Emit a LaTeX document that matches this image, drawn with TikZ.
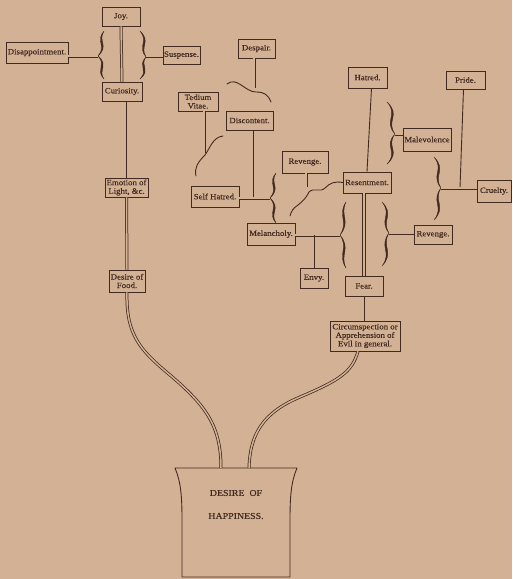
\documentclass[tikz,border=0pt]{standalone}
\usepackage{fontspec}
\setmainfont{Liberation Serif}[FakeStretch=1.1,FakeBold=0.4]
\usetikzlibrary{calc}
\definecolor{ink}{RGB}{66,42,33}
\definecolor{bg}{RGB}{211,177,149}
% old-style printed brace: base x, top y, tip x, tip y, bottom y
\newcommand\obr[5]{%
  \pgfmathsetmacro\qa{0.42*(#4-#2)}%
  \pgfmathsetmacro\qb{0.42*(#5-#4)}%
  \pgfmathsetmacro\ya{#2+\qa}\pgfmathsetmacro\yb{#4-\qa}%
  \pgfmathsetmacro\yc{#4+\qb}\pgfmathsetmacro\yd{#5-\qb}%
  \pgfmathsetmacro\cxo{#1+1.5*(#3-#1)}\pgfmathsetmacro\cxi{#1-0.5*(#3-#1)}%
  \pgfmathsetmacro\cxos{\cxo+2.4}\pgfmathsetmacro\cxis{\cxi+2.4}%
  \filldraw[bracefill] (#1,#2) .. controls (\cxo,\ya) and (\cxi,\yb) .. (#3,#4)
     .. controls (\cxi,\yc) and (\cxo,\yd) .. (#1,#5)
     .. controls (\cxos,\yd) and (\cxis,\yc) .. (#3,#4)
     .. controls (\cxis,\yb) and (\cxos,\ya) .. (#1,#2) -- cycle;}
\begin{document}
\begin{tikzpicture}[x=1pt,y=-1pt,
  bx/.style={draw=ink, line width=0.7pt, inner sep=0pt, align=center,
    text=ink, font=\fontsize{8}{8.5}\selectfont},
  sgl/.style={draw=ink, line width=0.9pt},
  dbl/.style={draw=ink, line width=0.75pt, double=bg, double distance=1.5pt},
  wave/.style={draw=ink, line width=0.9pt, line cap=round},
  bracefill/.style={fill=ink, draw=ink, line width=0.4pt, line join=round},
  jar/.style={draw=ink, line width=0.9pt, line join=round}]
\fill[bg] (0,0) rectangle (512,579);
\useasboundingbox (0,0) rectangle (512,579);

% boxes
\node[bx, minimum width=38pt, minimum height=19pt] (joy) at (121,16.5) {Joy.};
\node[bx, minimum width=62pt, minimum height=21pt] (disap) at (37,52.5) {Disappointment.};
\node[bx, minimum width=37pt, minimum height=18pt] (susp) at (181.5,55) {Suspense.};
\node[bx, minimum width=40pt, minimum height=19pt] (curio) at (122,91.5) {Curiosity.};
\node[bx, minimum width=43pt, minimum height=19pt] (emotion) at (126.5,187.5) {Emotion of\\Light, \&c.};
\node[bx, minimum width=36pt, minimum height=22pt] (food) at (127,281) {Desire of\\Food.};
\node[bx, minimum width=37pt, minimum height=19pt] (despair) at (256.5,48.5) {Despair.};
\node[bx, minimum width=40pt, minimum height=19pt] (tedium) at (198,101.5) {Tedium\\Vitae.};
\node[bx, minimum width=47pt, minimum height=19pt] (discontent) at (249.5,120.5) {Discontent.};
\node[bx, minimum width=48pt, minimum height=21pt] (selfhatred) at (215,196.5) {Self Hatred.};
\node[bx, minimum width=46pt, minimum height=22pt] (revengeA) at (305,162) {Revenge.};
\node[bx, minimum width=39pt, minimum height=21pt] (hatred) at (367.5,77.5) {Hatred.};
\node[bx, minimum width=48pt, minimum height=21pt] (resentment) at (367,182.5) {Resentment.};
\node[bx, minimum width=48pt, minimum height=23pt] (malevolence) at (427,139.5) {Malevolence};
\node[bx, minimum width=39pt, minimum height=18pt] (pride) at (465.5,80) {Pride.};
\node[bx, minimum width=34pt, minimum height=22pt] (cruelty) at (494,191) {Cruelty.};
\node[bx, minimum width=38pt, minimum height=19pt] (revengeB) at (433,234.5) {Revenge.};
\node[bx, minimum width=48pt, minimum height=22pt] (melancholy) at (271,234) {Melancholy.};
\node[bx, minimum width=28pt, minimum height=20pt] (envy) at (314,278) {Envy.};
\node[bx, minimum width=38pt, minimum height=20pt] (fear) at (364,286) {Fear.};
\node[bx, minimum width=70pt, minimum height=30pt] (circ) at (365,336) {Circumspection or\\Apprehension of\\Evil in general.};
\node[align=center, inner sep=0pt, text=ink, font=\fontsize{9}{23}\selectfont] (happy) at (236,504.5) {DESIRE\ \ OF\\HAPPINESS.};

% jar of happiness
\draw[jar] (175,468) -- (297,468) .. controls (291,482) and (290,497) .. (290,520)
  -- (290,577) -- (182,577) -- (182,520) .. controls (182,497) and (181,482) .. (175,468) -- cycle;
\coordinate (hl) at (221,468);
\coordinate (hr) at (249,468);

% brace tips and junctions
\coordinate (tA) at (98,56);
\coordinate (tB) at (146,57);
\coordinate (tC) at (270,198);
\coordinate (tD) at (395,134);
\coordinate (tE) at (340,235);
\coordinate (tF) at (389,233);
\coordinate (tG) at (441,188);
\coordinate (tT1) at (253,198);
\coordinate (tT2) at (460,188);
\coordinate (wA) at (254,88);
\coordinate (wB) at (204,153);
\coordinate (wC) at (306,187);

% braces
\obr{104}{31}{98}{56}{79}
\obr{140}{31}{146}{57}{79}
\obr{276}{173}{270}{198}{223}
\obr{387}{102}{395}{134}{164}
\obr{346}{202}{340}{235}{268}
\obr{382}{202}{389}{233}{266}
\obr{434}{157}{441}{188}{220}

% connectors, left column
\draw[dbl] (joy.south) -- (curio.north);
\draw[dbl] (tA -| disap.east) -- (tA);
\draw[sgl] (tB) -- (tB -| susp.west);
\draw[sgl] (emotion.north |- curio.south) -- (emotion.north);
\draw[dbl] (emotion.south) -- (food.north);
\draw[dbl] (food.south) .. controls (126,335) and (140,350) .. (170,375)
  .. controls (205,405) and (221,425) .. (hl);
\draw[dbl] ([xshift=-7pt]circ.south) .. controls (352,372) and (340,380) .. (300,397)
  .. controls (262,413) and (250,435) .. (hr);

% Despair / Tedium / Discontent / Self Hatred
\draw[dbl] (despair.south -| wA) -- (wA);
\draw[wave] (227,84) .. controls (237,76) and (245,92) .. (256,92) .. controls (265,92) and (268,95) .. (271,102);
\draw[dbl] (tedium.south -| wB) -- (wB);
\draw[wave] (223,136) .. controls (213,137) and (210,148) .. (205,155) .. controls (198,162) and (194,168) .. (196,176);
\draw[sgl] (discontent.south -| tT1) -- (tT1);
\draw[dbl] (tC -| selfhatred.east) -- (tC);

% Revenge / Resentment
\draw[dbl] (revengeA.south -| wC) -- (wC);
\draw[wave] (resentment.west) .. controls (335,181) and (330,183) .. (325,188)
  .. controls (320,193) and (314,187) .. (309,192) .. controls (306,198) and (304,200) .. (298,205)
  .. controls (293,208) and (291,212) .. (290,216);
\draw[sgl] ([xshift=4pt]hatred.south) -- (resentment.north);
\draw[dbl] (tD) -- (tD -| malevolence.west);
\draw[sgl] ([xshift=-2pt]pride.south) -- (tT2);
\draw[dbl] (tG) -- (tG -| cruelty.west);
\draw[dbl] (tF) -- (tF -| revengeB.west);
\draw[dbl, line width=0.9pt, double distance=1.6pt] (resentment.south -| fear.north) -- (fear.north);
\draw[dbl] (tE -| melancholy.east) -- (tE);
\draw[sgl] (envy.north) -- (envy.north |- tE);
\draw[sgl] (fear.south) -- (fear.south |- circ.north);
\end{tikzpicture}
\end{document}
